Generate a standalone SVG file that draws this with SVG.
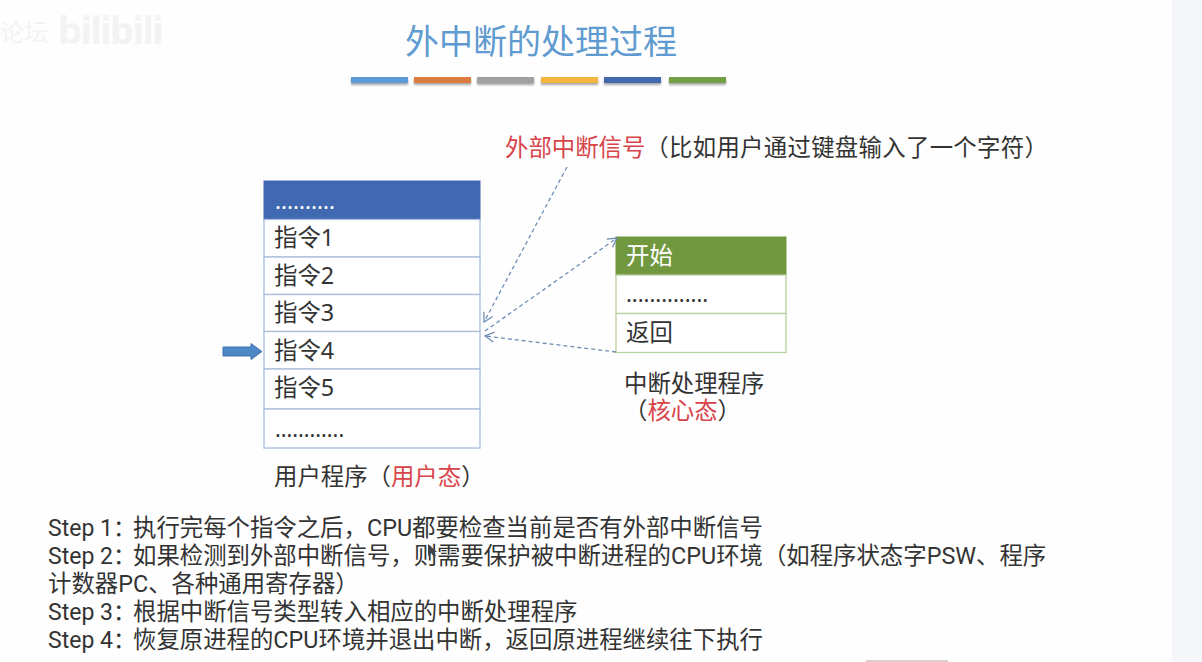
<svg xmlns="http://www.w3.org/2000/svg" width="1202" height="662" viewBox="0 0 1202 662">
<style>
text{font-family:"Noto Sans","Noto Sans CJK SC",sans-serif;font-size:23.4px;fill:#333;font-weight:400}
.lab{font-family:"Liberation Sans","Noto Sans CJK SC",sans-serif}
.st{font-family:Roboto,"Noto Sans CJK SC",sans-serif}
.dots{font-size:21.5px}
.step{font-size:23px}
.red{fill:#d8444a}
.cell{fill:#fff;stroke:#a9bcdc;stroke-width:1.3}
.gcell{fill:#fff;stroke:#b7d09f;stroke-width:1.3}
.conn{fill:none;stroke:#6f8db5;stroke-width:1.3;stroke-dasharray:4 3}
.head{fill:none;stroke:#6f8db5;stroke-width:1.3}
.bar{height:6px;width:57px}
</style>
<defs>
<filter id="sh" x="-10%" y="-50%" width="120%" height="250%"><feDropShadow dx="0" dy="2" stdDeviation="1.2" flood-color="#000" flood-opacity=".35"/></filter>
<marker id="open" viewBox="0 0 12 12" refX="11" refY="6" markerWidth="12" markerHeight="12" markerUnits="userSpaceOnUse" orient="auto-start-reverse"><path class="head" d="M2 1L11 6L2 11"/></marker>
</defs>
<rect width="1202" height="662" fill="#fefefe"/>
<rect x="1172" y="0" width="30" height="662" fill="#f5f7fb"/>
<rect x="866" y="660" width="82" height="2" fill="#dccfc8"/>
<g id="watermark">
<text x="0" y="41" style="font-size:24px;fill:#f3f3f3">论坛</text>
<text x="58" y="44" style="font-size:38px;font-weight:700;fill:#f3f3f3;letter-spacing:-1.500px">bilibili</text>
</g>
<g id="title">
<text x="405" y="54" style="font-size:34px;fill:#5f9bd0">外中断的处理过程</text>
<g filter="url(#sh)">
<rect class="bar" x="351" y="77" fill="#5b9bd5"/>
<rect class="bar" x="414" y="77" fill="#dd7b40"/>
<rect class="bar" x="477" y="77" fill="#a0a0a0"/>
<rect class="bar" x="541" y="77" fill="#f2b53c"/>
<rect class="bar" x="604" y="77" fill="#4269ae"/>
<rect class="bar" x="669" y="77" fill="#71a044"/>
</g>
</g>
<g id="signal-label">
<text x="505" y="156"><tspan class="red">外部中断信号</tspan><tspan style="letter-spacing:.3px">（比如用户通过键盘输入了一个字符）</tspan></text>
</g>
<g id="user-program">
<rect x="264" y="181" width="216" height="38.5" fill="#4169b2" stroke="#4169b2"/>
<text x="275" y="209" style="fill:#fff;font-size:22.4px">..........</text>
<rect class="cell" x="264" y="219.500" width="216" height="37.500"/>
<text x="274" y="246">指令1</text>
<rect class="cell" x="264" y="257" width="216" height="37.500"/>
<text x="274" y="283.500">指令2</text>
<rect class="cell" x="264" y="294.500" width="216" height="37"/>
<text x="274" y="321">指令3</text>
<rect class="cell" x="264" y="331.500" width="216" height="37.500"/>
<text x="274" y="358.500">指令4</text>
<rect class="cell" x="264" y="369" width="216" height="40"/>
<text x="274" y="396">指令5</text>
<rect class="cell" x="264" y="409" width="216" height="39"/>
<text class="dots" x="275" y="437">............</text>
<text x="274" y="485">用户程序（<tspan class="red">用户态</tspan>）</text>
</g>
<g id="pointer">
<path d="M223 347H251V343.500L262 351.500L251 359.500V356H223Z" fill="#4f88c6" stroke="#3f74ad" stroke-width="1"/>
</g>
<g id="handler">
<rect x="616" y="237" width="170" height="38" fill="#71983f" stroke="#71983f"/>
<text x="626" y="264" style="fill:#fff">开始</text>
<rect class="gcell" x="616" y="275" width="170" height="38.500"/>
<text x="626" y="302" style="font-size:21.9px">..............</text>
<rect class="gcell" x="616" y="313.500" width="170" height="39"/>
<text x="626" y="341">返回</text>
<text class="lab" x="624" y="392">中断处理程序</text>
<text class="lab" x="624" y="419">（<tspan class="red">核心态</tspan>）</text>
</g>
<g id="connectors">
<path class="conn" d="M567 167L484 322" marker-end="url(#open)"/>
<path class="conn" d="M485 331L617 238" marker-end="url(#open)"/>
<path class="conn" d="M616 352L485 336" marker-end="url(#open)"/>
</g>
<g id="steps">
<text class="st step" x="48" y="536">Step 1：</text><text class="st" x="133" y="536">执行完每个指令之后，CPU都要检查当前是否有外部中断信号</text>
<text class="st step" x="48" y="564">Step 2：</text><text class="st" x="133" y="564">如果检测到外部中断信号，则需要保护被中断进程的CPU环境（如程序状态字PSW、程序</text>
<text class="st" x="48" y="592">计数器PC、各种通用寄存器）</text>
<text class="st step" x="48" y="620">Step 3：</text><text class="st" x="133" y="620">根据中断信号类型转入相应的中断处理程序</text>
<text class="st step" x="48" y="648">Step 4：</text><text class="st" x="133" y="648">恢复原进程的CPU环境并退出中断，返回原进程继续往下执行</text>
</g>
<path id="cursor" d="M428 544V556L431 553L434 557L436 556L433.500 552H437Z" fill="#444"/>
</svg>
